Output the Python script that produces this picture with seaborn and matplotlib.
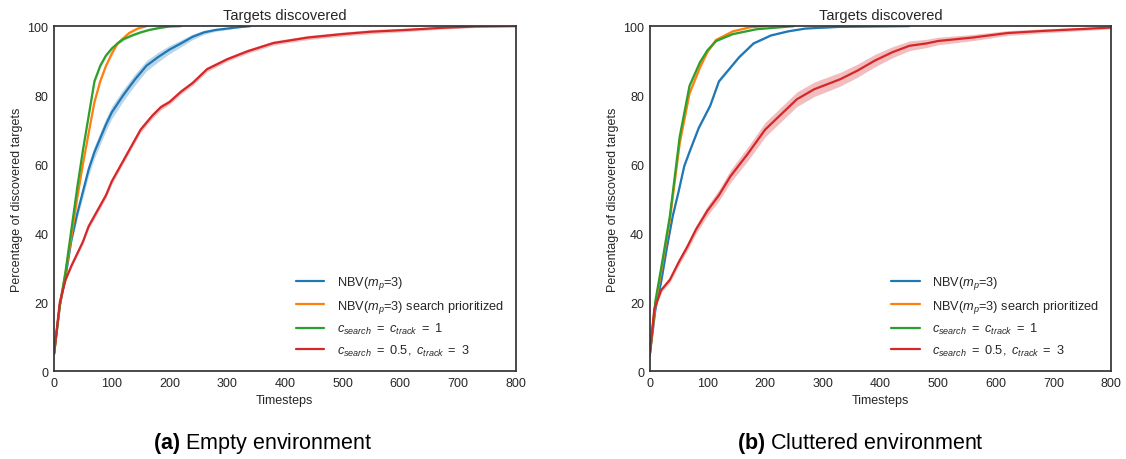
import matplotlib
matplotlib.use("Agg")
import matplotlib.pyplot as plt
import numpy as np
import pandas as pd
import seaborn as sns

# ---- data: percentage of discovered targets over time ----
labels = [
    r"NBV($m_p$=3)",
    r"NBV($m_p$=3) search prioritized",
    r"$c_{search}\ =\ c_{track}\ =\ 1$",
    r"$c_{search}\ =\ 0.5,\ c_{track}\ =\ 3$",
]

# Empty environment
empty_nbv_t = [0, 10, 20, 30, 40, 50, 60, 70, 80, 90, 100, 120, 140, 160, 180, 200, 220, 240, 260, 280, 300, 320, 340]
empty_nbv_v = [5, 19, 27.5, 38, 45.5, 52, 58.5, 63.5, 67.5, 71.5, 75, 80, 84.5, 88.5, 91, 93.2, 95, 96.9, 98.2, 98.9, 99.3, 99.7, 100]
empty_nbv_ci = [0.2, 0.5, 0.8, 1.0, 1.3, 1.5, 1.7, 1.8, 1.8, 1.8, 1.8, 1.7, 1.6, 1.5, 1.4, 1.2, 1.0, 0.8, 0.6, 0.4, 0.3, 0.2, 0.1]

empty_prio_t = [0, 10, 20, 30, 40, 50, 60, 70, 80, 90, 100, 110, 120, 130, 145, 160]
empty_prio_v = [5, 19, 28.5, 39, 50, 60, 69, 78, 84, 88.5, 92, 95, 96.5, 98, 99.3, 100]
empty_prio_ci = [0.2, 0.4, 0.5, 0.6, 0.6, 0.6, 0.6, 0.6, 0.6, 0.5, 0.5, 0.4, 0.3, 0.3, 0.2, 0.1]

empty_eq_t = [0, 10, 20, 30, 40, 50, 60, 70, 80, 90, 100, 110, 120, 135, 150, 165, 180, 200, 220]
empty_eq_v = [5, 19, 29, 41, 53, 64, 74, 84, 88.5, 91.5, 93.5, 95, 96.2, 97.3, 98.2, 98.9, 99.4, 99.9, 100]
empty_eq_ci = [0.2, 0.4, 0.5, 0.6, 0.6, 0.6, 0.6, 0.6, 0.6, 0.5, 0.5, 0.4, 0.4, 0.3, 0.3, 0.2, 0.2, 0.1, 0.1]

empty_track_t = [0, 10, 20, 30, 40, 50, 60, 70, 80, 90, 100, 115, 130, 150, 170, 185, 200, 220, 240, 265, 300, 335, 380, 440, 500, 550, 610, 670, 730, 800]
empty_track_v = [5, 20, 26.5, 30.5, 34, 37.5, 42, 45, 48, 51, 55, 59.5, 64, 70, 74, 76.5, 78, 81, 83.5, 87.5, 90.4, 92.7, 95.1, 96.7, 97.7, 98.4, 98.9, 99.5, 99.9, 100]
empty_track_ci = [0.2, 0.4, 0.5, 0.6, 0.6, 0.7, 0.7, 0.8, 0.8, 0.8, 0.8, 0.8, 0.8, 0.8, 0.8, 0.8, 0.7, 0.7, 0.7, 0.7, 0.6, 0.6, 0.6, 0.6, 0.6, 0.6, 0.5, 0.4, 0.3, 0.1]

# Cluttered environment
clut_nbv_t = [0, 10, 20, 30, 40, 50, 60, 70, 85, 105, 120, 140, 155, 180, 210, 240, 270, 330, 450]
clut_nbv_v = [4.5, 18, 26, 36, 45, 52, 59.5, 64, 70.5, 77, 84, 88, 91, 95, 97.3, 98.5, 99.3, 99.8, 100]
clut_nbv_ci = [0.2, 0.3, 0.4, 0.4, 0.4, 0.4, 0.4, 0.4, 0.4, 0.4, 0.4, 0.3, 0.3, 0.3, 0.2, 0.2, 0.1, 0.1, 0.1]

clut_prio_t = [0, 10, 20, 35, 52, 69, 87, 100, 115, 144, 175, 200]
clut_prio_v = [4.5, 19.5, 29, 44, 66, 80.5, 88, 92.5, 96, 98.5, 99.7, 100]
clut_prio_ci = [0.2, 0.4, 0.5, 0.6, 0.6, 0.6, 0.5, 0.4, 0.3, 0.2, 0.1, 0.1]

clut_eq_t = [0, 10, 20, 35, 52, 69, 87, 100, 115, 144, 185, 250]
clut_eq_v = [4.5, 20.5, 30, 45, 68, 82.7, 89.5, 93, 95.7, 97.7, 99.1, 100]
clut_eq_ci = [0.2, 0.4, 0.5, 0.6, 0.6, 0.6, 0.5, 0.4, 0.3, 0.2, 0.1, 0.1]

clut_track_t = [0, 8, 20, 35, 50, 65, 80, 100, 120, 140, 170, 200, 225, 255, 285, 330, 360, 390, 420, 450, 480, 500, 560, 620, 680, 740, 800]
clut_track_v = [4.5, 18, 23.5, 26.5, 31.5, 36, 41, 46.5, 51, 56.5, 63, 70, 74, 78.8, 81.7, 84.6, 87.1, 90, 92.4, 94.3, 95, 95.7, 96.7, 98, 98.6, 99.1, 99.6]
clut_track_ci = [0.3, 0.5, 0.7, 0.8, 1.0, 1.1, 1.2, 1.4, 1.6, 1.8, 2.0, 2.1, 2.1, 2.1, 2.1, 2.0, 1.9, 1.8, 1.6, 1.4, 1.2, 1.1, 0.9, 0.7, 0.6, 0.5, 0.4]

panels = [
    ("(a)", "Empty environment", [
        (empty_nbv_t, empty_nbv_v, empty_nbv_ci),
        (empty_prio_t, empty_prio_v, empty_prio_ci),
        (empty_eq_t, empty_eq_v, empty_eq_ci),
        (empty_track_t, empty_track_v, empty_track_ci),
    ]),
    ("(b)", "Cluttered environment", [
        (clut_nbv_t, clut_nbv_v, clut_nbv_ci),
        (clut_prio_t, clut_prio_v, clut_prio_ci),
        (clut_eq_t, clut_eq_v, clut_eq_ci),
        (clut_track_t, clut_track_v, clut_track_ci),
    ]),
]

# ---- style ----
sns.set_theme(style="white")
plt.rcParams["font.family"] = ["Liberation Sans", "DejaVu Sans"]
plt.rcParams["mathtext.fontset"] = "custom"
plt.rcParams["mathtext.rm"] = "Liberation Sans"
plt.rcParams["mathtext.it"] = "Liberation Sans:italic"
plt.rcParams["mathtext.bf"] = "Liberation Sans:bold"
palette = sns.color_palette("tab10", 4)

fig = plt.figure(figsize=(11.26, 4.6), dpi=100)
axes_pos = [(0.048, 0.191, 0.410, 0.750), (0.577, 0.191, 0.410, 0.750)]
caption_x = [0.233, 0.764]

for (tag, caption, series), pos, cx in zip(panels, axes_pos, caption_x):
    ax = fig.add_axes(pos)
    for (t, v, ci), lab, col in zip(series, labels, palette):
        df = pd.DataFrame({"Timesteps": t, "value": v})
        sns.lineplot(data=df, x="Timesteps", y="value", ax=ax, color=col,
                     lw=1.6, label=lab)
        lo = np.array(v) - np.array(ci)
        hi = np.minimum(np.array(v) + np.array(ci), 100.5)
        ax.fill_between(t, lo, hi, color=col, alpha=0.3, lw=0)
    ax.set_xlim(0, 800)
    ax.set_ylim(0, 100)
    ax.set_xticks(range(0, 801, 100))
    ax.set_yticks(range(0, 101, 20))
    ax.tick_params(labelsize=9, colors=".15", length=0, pad=4)
    ax.set_xlabel("Timesteps", fontsize=9, color=".15", labelpad=4)
    ax.set_ylabel("Percentage of discovered targets", fontsize=9, color=".15", labelpad=3)
    ax.set_title("Targets discovered", fontsize=10.5, color=".15", pad=5)
    for sp in ax.spines.values():
        sp.set_color(".2")
        sp.set_linewidth(1.25)
    ax.legend(loc="lower right", frameon=False, fontsize=9.2,
              labelspacing=0.5, handlelength=2.2, handletextpad=1.0,
              borderaxespad=0.0, bbox_to_anchor=(0.985, 0.024))
    fig.text(cx, 0.035, r"$\bf{" + tag + "}$ " + caption, ha="center",
             va="center", fontsize=15.5, color="black")

fig.savefig("out.png", dpi=100)
